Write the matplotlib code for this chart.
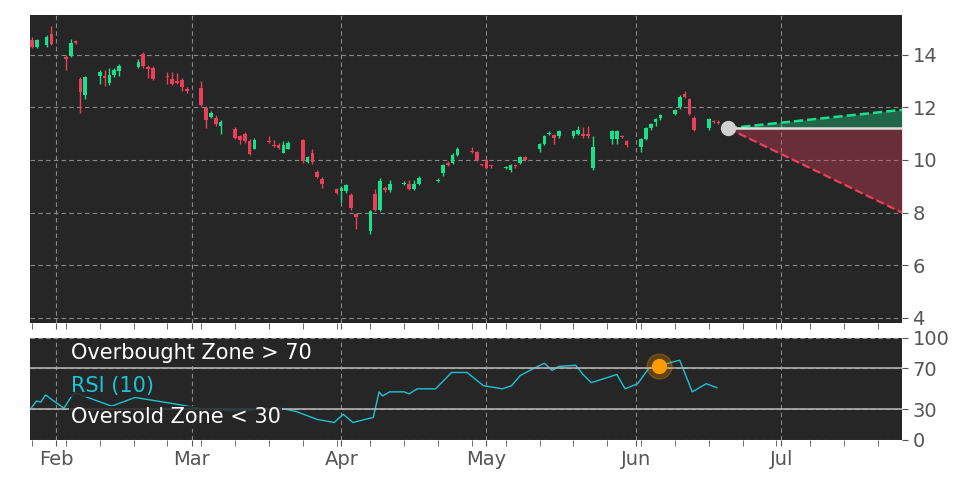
import matplotlib
matplotlib.use("Agg")
import matplotlib.pyplot as plt
import matplotlib.dates as mdates
import pandas as pd

# trading days given as day offsets from Feb 1
days = [-5, -4, -2, -1, 2, 3, 4, 5, 6, 9, 10, 11, 12, 13, 17, 18, 19, 20, 23, 24, 25, 26, 27,
        30, 31, 32, 33, 34, 37, 38, 39, 40, 41, 44, 45, 46, 47, 48, 51, 52, 53, 54, 55, 58, 59,
        60, 61, 62, 65, 66, 67, 68, 69, 72, 73, 74, 75, 79, 80, 81, 82, 83, 86, 87, 88, 89, 90,
        93, 94, 95, 96, 97, 100, 101, 102, 103, 104, 107, 108, 109, 110, 111, 115, 116, 117, 118,
        121, 122, 123, 124, 125, 128, 129, 130, 131, 132, 135, 136, 137]
opens = [14.55, 14.3, 14.35, 14.8, 13.9, 13.95, 14.5, 13.09, 12.48, 13.19, 13.18, 12.93, 13.22, 13.38,
         13.54, 14.04, 13.54, 13.5, 13.15, 13.07, 12.99, 13.03, 12.69,
         12.74, 11.98, 11.63, 11.61, 11.29, 11.19, 10.9, 11.0, 10.72, 10.43, 10.7, 10.55, 10.58, 10.28, 10.43,
         10.75, 9.92, 10.27, 9.54, 9.29, 8.88, 8.81, 8.81, 8.68, 7.95, 7.3, 8.7, 8.1, 8.95, 8.85,
         9.1, 9.1, 8.9, 9.1, 9.2, 9.5, 9.9, 9.9, 10.2, 10.32, 10.3, 9.82, 10.0, 9.77,
         9.68, 9.6, 9.77, 9.9, 10.1, 10.4, 10.6, 11.0, 10.95, 10.9, 10.9, 11.0, 11.0, 11.0, 9.7,
         10.8, 10.8, 10.9, 10.7, 10.5, 10.8, 11.2, 11.45, 11.6, 11.75, 12.0, 12.5, 12.3, 11.6,
         11.2, 11.45, 11.45]
closes = [14.3, 14.55, 14.65, 14.4, 13.85, 14.45, 14.45, 12.56, 13.15, 13.32, 13.12, 13.22, 13.41, 13.56,
          13.73, 13.57, 13.45, 13.09, 13.13, 12.89, 12.93, 12.77, 12.62,
          12.1, 11.5, 11.79, 11.36, 11.44, 10.85, 10.77, 10.71, 10.24, 10.77, 10.68, 10.52, 10.46, 10.58, 10.65,
          9.96, 10.11, 9.92, 9.35, 9.1, 8.76, 8.93, 9.06, 8.17, 7.83, 8.05, 8.1, 9.2, 8.85, 9.1,
          9.12, 8.9, 9.1, 9.3, 9.25, 9.8, 9.8, 10.2, 10.4, 10.3, 10.0, 9.8, 9.7, 9.75,
          9.7, 9.8, 9.75, 10.1, 10.0, 10.6, 10.9, 11.02, 10.85, 11.1, 11.1, 11.15, 10.9, 10.9, 10.5,
          11.1, 11.1, 10.88, 10.55, 10.8, 11.2, 11.35, 11.55, 11.7, 11.9, 12.4, 12.4, 11.75, 11.15,
          11.55, 11.43, 11.4]
highs = [14.65, 14.6, 14.75, 15.1, 14.0, 14.6, 14.55, 13.15, 13.2, 13.4, 13.4, 13.5, 13.5, 13.65,
         13.85, 14.1, 13.6, 13.55, 13.35, 13.35, 13.3, 13.1, 12.75,
         13.0, 12.05, 11.85, 11.7, 11.5, 11.25, 10.95, 11.05, 10.8, 10.85, 10.9, 10.75, 10.65, 10.7, 10.7,
         10.8, 10.15, 10.4, 9.6, 9.35, 8.95, 9.0, 9.1, 8.75, 8.0, 8.1, 8.9, 9.3, 9.0, 9.25,
         9.2, 9.25, 9.25, 9.4, 9.3, 9.85, 9.95, 10.25, 10.5, 10.5, 10.35, 9.85, 10.05, 9.8,
         9.75, 9.85, 9.85, 10.15, 10.15, 10.65, 10.95, 11.1, 11.0, 11.15, 11.15, 11.3, 11.25, 11.3, 10.9,
         11.15, 11.15, 10.95, 10.75, 10.85, 11.25, 11.4, 11.6, 11.75, 11.95, 12.45, 12.6, 12.35, 11.65,
         11.6, 11.5, 11.5]
lows = [14.25, 14.25, 14.3, 14.35, 13.4, 13.9, 14.4, 11.8, 12.3, 12.9, 12.8, 12.85, 13.15, 13.2,
        13.5, 13.5, 13.1, 13.05, 12.9, 12.85, 12.9, 12.6, 12.55,
        12.05, 11.2, 11.6, 11.3, 11.0, 10.8, 10.6, 10.65, 10.2, 10.4, 10.65, 10.5, 10.4, 10.25, 10.4,
        9.9, 9.88, 9.85, 9.3, 8.95, 8.7, 8.4, 8.75, 8.1, 7.39, 7.2, 8.05, 8.05, 8.8, 8.8,
        9.05, 8.85, 8.85, 9.05, 9.15, 9.4, 9.75, 9.85, 10.15, 10.25, 9.95, 9.75, 9.65, 9.7,
        9.65, 9.55, 9.7, 9.85, 9.95, 10.3, 10.55, 10.95, 10.6, 10.85, 10.85, 10.95, 10.85, 10.85, 9.6,
        10.6, 10.6, 10.85, 10.5, 10.3, 10.75, 11.15, 11.3, 11.5, 11.7, 11.95, 12.35, 11.7, 11.1,
        11.15, 11.4, 11.35]

# projection from last price
proj_start_day, proj_end_day = 139, 175
proj_price, proj_high, proj_low = 11.2, 11.9, 8.0

# RSI(10)
rsi_days = [-5.1, -4.1, -3.2, -2.2, -0.8, 1.6, 3, 3.9, 11.5, 16.3, 24.8, 30.5, 38, 45.7, 49.5, 54,
            57.5, 59.4, 61.4, 65.6, 66.8, 67.5, 69, 72, 73, 74.7, 78.5, 81.8, 85, 88.4, 92.3, 94.2,
            96, 98, 101, 102.6, 104, 107.5, 109, 110.7, 116, 117.7, 120.3, 122.6, 124.8, 127.3, 129,
            131.6, 134.5, 136.7]
rsi_vals = [31.6, 38, 37, 44, 39, 31, 41.5, 46, 33, 41.5, 35, 30, 28, 31.6, 28, 20,
            17, 25, 17, 22, 47, 43, 47, 47, 45, 50, 50, 66, 66, 53, 50, 53,
            63, 68, 75, 68, 72, 73, 64, 56, 64, 50, 55, 70, 72, 76, 78,
            47, 55, 51]
rsi_marker_day, rsi_marker_val = 124.8, 72

base = pd.Timestamp("2025-02-01")
to_date = lambda d: mdates.date2num(base + pd.Timedelta(days=d))

GREEN = "#19e08c"
RED = "#ea3f5b"
BG = "#262626"
TXT = "#555555"

fig = plt.figure(figsize=(9.72, 4.86), dpi=100)
ax = fig.add_axes([0.031, 0.335, 0.897, 0.634])
ax2 = fig.add_axes([0.031, 0.095, 0.897, 0.21])

for a in (ax, ax2):
    a.set_facecolor(BG)
    for s in a.spines.values():
        s.set_visible(False)
    a.yaxis.tick_right()
    a.tick_params(axis="y", labelsize=14, colors=TXT, length=4)
    a.tick_params(axis="y", labelcolor=TXT)
    a.grid(True, color="#8a8a8a", linestyle=(0, (4, 3)), linewidth=0.8)
    a.set_axisbelow(True)

for d, o, c, h, l in zip(days, opens, closes, highs, lows):
    x = to_date(d)
    col = GREEN if c >= o else RED
    ax.vlines(x, l, h, color=col, linewidth=1)
    body = max(abs(c - o), 0.04)
    ax.bar(x, body, bottom=min(o, c), width=0.75, color=col, linewidth=0)

x0, x1 = to_date(proj_start_day), to_date(proj_end_day)
ax.fill_between([x0, x1], [proj_price, proj_price], [proj_price, proj_high], color=GREEN, alpha=0.35, linewidth=0)
ax.fill_between([x0, x1], [proj_price, proj_price], [proj_price, proj_low], color=RED, alpha=0.35, linewidth=0)
ax.plot([x0, x1], [proj_price, proj_high], color=GREEN, linestyle="--", linewidth=1.8)
ax.plot([x0, x1], [proj_price, proj_low], color=RED, linestyle="--", linewidth=1.6)
ax.plot([x0, x1], [proj_price, proj_price], color="#dddddd", linewidth=1.8)
ax.plot([x0], [proj_price], "o", color="#d0d0d0", markersize=10, zorder=5)

xlim = (to_date(-5.4), to_date(175))
ax.set_xlim(*xlim)
ax.set_ylim(3.8, 15.5)
ax.set_yticks([4, 6, 8, 10, 12, 14])

# RSI panel
ax2.plot([to_date(d) for d in rsi_days], rsi_vals, color="#1cc3d6", linewidth=1)
ax2.axhline(70, color="#b0b0b0", linewidth=1.2)
ax2.axhline(30, color="#b0b0b0", linewidth=1.2)
mx = to_date(rsi_marker_day)
ax2.plot([mx], [rsi_marker_val], "o", color="#ff9a00", markersize=18, alpha=0.25, zorder=4)
ax2.plot([mx], [rsi_marker_val], "o", color="#ff9a00", markersize=10, zorder=5)
ax2.set_xlim(*xlim)
ax2.set_ylim(0, 100)
ax2.set_yticks([0, 30, 70, 100])

box = dict(facecolor=BG, edgecolor="none", alpha=0.85, pad=1)
ax2.text(to_date(3), 85, "Overbought Zone > 70", color="white", fontsize=15, va="center", bbox=box)
ax2.text(to_date(3), 53, "RSI (10)", color="#1cc3d6", fontsize=15, va="center", bbox=box)
ax2.text(to_date(3), 22, "Oversold Zone < 30", color="white", fontsize=15, va="center", bbox=box)

for a in (ax, ax2):
    a.xaxis.set_major_locator(mdates.MonthLocator())
    a.xaxis.set_minor_locator(mdates.WeekdayLocator(byweekday=0))
    a.tick_params(axis="x", which="both", colors=TXT, length=4)
ax.tick_params(axis="x", labelbottom=False)
ax2.xaxis.set_major_formatter(mdates.DateFormatter("%b"))
ax2.tick_params(axis="x", labelsize=14, labelcolor=TXT)

fig.savefig("out.png", dpi=100, facecolor="white")
